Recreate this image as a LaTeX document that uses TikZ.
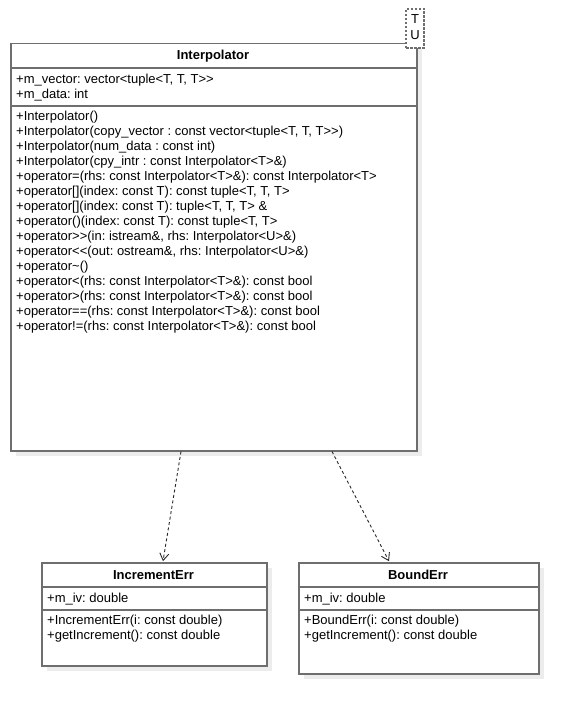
\documentclass[tikz,border=0pt]{standalone}
\usepackage{fontspec}
\setmainfont{Liberation Sans}
\frenchspacing
\usetikzlibrary{arrows.meta,calc}
\definecolor{boxgray}{RGB}{110,110,110}
\definecolor{shadowgray}{RGB}{236,236,236}
\definecolor{linegray}{RGB}{40,40,40}
\begin{document}
\begin{tikzpicture}[x=1pt,y=-1pt,
  umlfont/.style={font=\fontsize{13}{15}\selectfont\frenchspacing},
  umlbox/.style={draw=boxgray, line width=1.5pt, fill=white, rectangle, inner sep=0pt, anchor=north west},
  shade/.style={fill=shadowgray},
  divider/.style={draw=boxgray, line width=1.5pt},
  txt/.style={umlfont, anchor=base west, inner sep=0pt, text=black},
  title/.style={font=\fontsize{13}{15}\selectfont\bfseries, anchor=base, inner sep=0pt, text=black},
  dep/.style={draw=linegray, line width=0.9pt, dash pattern=on 3pt off 2.5pt, -{Straight Barb[length=7pt,width=9pt,line width=0.9pt]}},
  tmplbox/.style={draw=boxgray, line width=1.3pt, dash pattern=on 2.5pt off 1.5pt, fill=white, rectangle, inner sep=0pt, minimum width=18pt, minimum height=39pt}
]
\useasboundingbox[fill=white] (0,0) rectangle (578,714);

% shadows
\fill[shade] (16,49) rectangle (422,456);
\fill[shade] (47,568) rectangle (272,671);
\fill[shade] (304,568) rectangle (544,679);

% Interpolator class
\node[umlbox, minimum width=406pt, minimum height=407pt] (interp) at (10,43) {};
\draw[divider] (10,68) -- (416,68);
\draw[divider] (10,106) -- (416,106);
\node[title] (interpT) at (213,59.5) {Interpolator};
\node[txt] (ia1) at (16,83.5) {+m\_vector: vector<tuple<T, T, T>{}>};
\node[txt] (ia2) at (16,98.5) {+m\_data: int};
\node[txt] (im1) at (16,120.5) {+Interpolator()};
\node[txt] (im2) at (16,135.5) {+Interpolator(copy\_vector : const vector<tuple<T, T, T>{}>)};
\node[txt] (im3) at (16,150.5) {+Interpolator(num\_data : const int)};
\node[txt] (im4) at (16,165.5) {+Interpolator(cpy\_intr : const Interpolator<T>\&)};
\node[txt] (im5) at (16,180.5) {+operator=(rhs: const Interpolator<T>\&): const Interpolator<T>};
\node[txt] (im6) at (16,195.5) {+operator[](index: const T): const tuple<T, T, T>};
\node[txt] (im7) at (16,210.5) {+operator[](index: const T): tuple<T, T, T> \&};
\node[txt] (im8) at (16,225.5) {+operator()(index: const T): const tuple<T, T>};
\node[txt] (im9) at (16,240.5) {+operator>{}>(in: istream\&, rhs: Interpolator<U>\&)};
\node[txt] (im10) at (16,255.5) {+operator<{}<(out: ostream\&, rhs: Interpolator<U>\&)};
\node[txt] (im11) at (16,270.5) {+operator\textasciitilde()};
\node[txt] (im12) at (16,285.5) {+operator<(rhs: const Interpolator<T>\&): const bool};
\node[txt] (im13) at (16,300.5) {+operator>(rhs: const Interpolator<T>\&): const bool};
\node[txt] (im14) at (16,315.5) {+operator==(rhs: const Interpolator<T>\&): const bool};
\node[txt] (im15) at (16,330.5) {+operator!=(rhs: const Interpolator<T>\&): const bool};

% template parameter box
\node[tmplbox] (tmpl) at (415,28.5) {};
\node[umlfont, inner sep=0pt, anchor=base] (tmplT) at (415,24) {T};
\node[umlfont, inner sep=0pt, anchor=base] (tmplU) at (415,40) {U};

% IncrementErr class
\node[umlbox, minimum width=225pt, minimum height=103pt] (inc) at (41,562) {};
\draw[divider] (41,587) -- (266,587);
\draw[divider] (41,610) -- (266,610);
\node[title] (incT) at (153.5,579.5) {IncrementErr};
\node[txt] (inca1) at (47,602.5) {+m\_iv: double};
\node[txt] (incm1) at (47,624.5) {+IncrementErr(i: const double)};
\node[txt] (incm2) at (47,639.5) {+getIncrement(): const double};

% BoundErr class
\node[umlbox, minimum width=240pt, minimum height=111pt] (bnd) at (298,562) {};
\draw[divider] (298,587) -- (538,587);
\draw[divider] (298,610) -- (538,610);
\node[title] (bndT) at (418,579.5) {BoundErr};
\node[txt] (bnda1) at (304,602.5) {+m\_iv: double};
\node[txt] (bndm1) at (304,624.5) {+BoundErr(i: const double)};
\node[txt] (bndm2) at (304,639.5) {+getIncrement(): const double};

% dependencies
\draw[dep] ($(interp.south west)+(171,0)$) -- ($(inc.north west)+(122,-0.8)$);
\draw[dep] ($(interp.south west)+(322,0)$) -- ($(bnd.north west)+(91,-0.8)$);
\end{tikzpicture}
\end{document}
